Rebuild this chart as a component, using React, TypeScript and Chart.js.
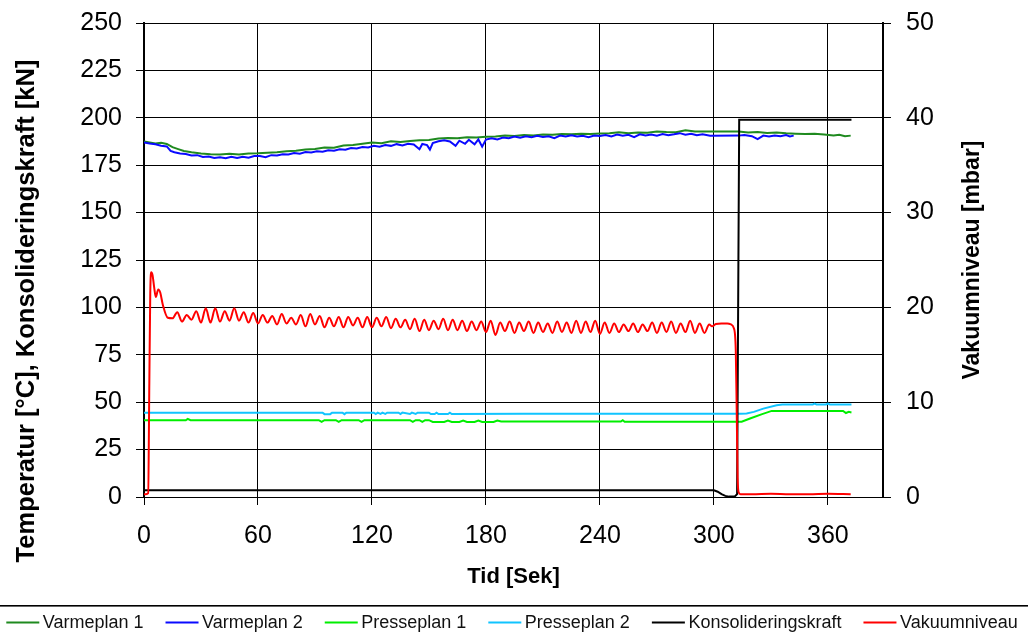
import { useEffect, useRef } from "react";
import { Chart, registerables } from "chart.js";

Chart.register(...registerables);

const FONT = "'Liberation Sans', Arial, sans-serif";

const X_TICKS = [0, 60, 120, 180, 240, 300, 360];
const X_MAX = 389;
const LEFT_TICKS = [0, 25, 50, 75, 100, 125, 150, 175, 200, 225, 250];
const RIGHT_TICKS = [0, 10, 20, 30, 40, 50];

const X_TITLE = "Tid [Sek]";
const LEFT_TITLE = "Temperatur [°C], Konsolideringskraft [kN]";
const RIGHT_TITLE = "Vakuumniveau [mbar]";

const SERIES_LABELS = ["Varmeplan 1", "Varmeplan 2", "Presseplan 1", "Presseplan 2", "Konsolideringskraft", "Vakuumniveau"];
const SERIES_COLORS = ["#1f8a1f", "#0a0aff", "#00ee00", "#10c4ff", "#000000", "#ff0000"];

// Varmeplan 1 (°C)
const VARME1_T = [0, 3, 6, 9, 12, 15, 18, 21, 25, 30, 35, 40, 45, 50, 55, 60, 65, 70, 75, 80, 85, 90, 95, 100, 105, 110, 115, 120, 125, 130, 135, 140, 145, 150, 155, 160, 165, 170, 175, 180, 185, 190, 195, 200, 205, 210, 215, 220, 225, 230, 235, 240, 245, 250, 255, 260, 265, 270, 275, 280, 285, 290, 298, 313, 318, 323, 328, 333, 338, 343, 348, 353, 358, 363, 366, 369, 372];
const VARME1_V = [187.5, 187, 186.5, 186.8, 186.2, 184.5, 183.5, 182.5, 181.8, 181.2, 180.8, 180.7, 181, 180.6, 181.2, 181.3, 181.6, 181.8, 182.4, 182.6, 183.3, 183.6, 184.3, 184.2, 185.4, 185.6, 186.3, 187, 186.6, 187.6, 187.3, 187.8, 188.2, 188.3, 189.1, 189.3, 189.2, 189.8, 189.6, 190, 190.2, 190.6, 190.4, 190.9, 190.7, 191.2, 191, 191.4, 191.3, 191.6, 191.5, 191.7, 191.9, 192.4, 191.9, 192.3, 192.1, 192.8, 192.5, 192.4, 193.4, 192.8, 192.8, 192.8, 192.3, 192.5, 192, 192.3, 191.8, 191.6, 191.4, 191.6, 191.2, 190.7, 191.1, 190.3, 190.6];

// Varmeplan 2 (°C)
const VARME2_T = [0, 3, 6, 9, 12, 14, 16, 19, 22, 25, 28, 31, 34, 37, 40, 43, 46, 49, 52, 55, 58, 61, 64, 67, 70, 73, 76, 79, 82, 85, 88, 91, 94, 97, 100, 103, 106, 109, 112, 115, 118, 121, 124, 127, 130, 133, 136, 139, 142, 145, 146.5, 149, 150.5, 152, 155, 158, 161, 164, 166, 169, 171, 174, 176, 178, 180, 183, 186, 189, 192, 195, 198, 201, 204, 207, 210, 213, 216, 219, 222, 225, 228, 231, 234, 237, 240, 243, 246, 249, 252, 255, 258, 261, 264, 267, 270, 273, 276, 279, 282, 285, 288, 291, 294, 298, 313, 316, 320, 323, 326, 329, 332, 335, 338, 340, 342];
const VARME2_V = [187, 186.4, 186, 185.3, 184.9, 182.5, 181.8, 181.2, 180.9, 180.1, 180.3, 179.3, 179.6, 178.8, 179.2, 178.7, 179.4, 178.8, 179.5, 178.9, 179.8, 179.8, 179.2, 180.3, 180.1, 180.8, 180.6, 181.4, 181.1, 181.9, 181.7, 182.3, 182.1, 182.9, 182.6, 183.4, 183.2, 184.1, 183.8, 184.6, 184.3, 185.2, 184.8, 185.6, 185.2, 186.1, 185.4, 186.3, 185.9, 183.4, 186.2, 185.6, 183.2, 186.7, 187.6, 188.2, 187.5, 185.2, 187.9, 186.3, 188.4, 186, 188.6, 184.8, 188.5, 189.2, 188.6, 189.6, 189.2, 190.1, 189.5, 190.3, 189.7, 190.5, 189.9, 190.3, 189.3, 190.6, 190.1, 190.8, 190.2, 190.5, 189.8, 190.6, 190.4, 190.9, 190.2, 191.2, 190.5, 191, 189.8, 191.3, 190.7, 191.2, 190.5, 191.4, 190.8, 191.3, 191.9, 191.1, 191.6, 190.8, 191.3, 190.5, 190.6, 190.9, 190.3, 188.8, 190.6, 190.1, 190.7, 190.3, 190.9, 190.2, 190.6];

// Presseplan 1 (°C)
const PRESSE1_T = [0, 22, 23, 24.5, 92, 93.5, 95, 101, 102.5, 104, 113, 114.5, 116, 140, 141.5, 143, 145, 146.5, 148, 150, 152, 158, 160, 162, 166, 168, 170, 174, 176, 178, 184, 186, 188, 251, 252, 253, 314.6, 319, 325, 330.4, 368, 369.5, 371, 372.4];
const PRESSE1_V = [40.5, 40.5, 41.2, 40.5, 40.5, 39.6, 40.5, 40.5, 39.6, 40.5, 40.5, 39.6, 40.5, 40.5, 39.6, 40.5, 40.5, 39.6, 40.5, 40.5, 39.6, 39.6, 40.3, 39.6, 39.6, 40.3, 39.6, 39.6, 40.3, 39.6, 39.6, 40.3, 39.8, 39.8, 40.5, 39.7, 39.7, 41.4, 43.6, 45.4, 45.4, 44.3, 44.9, 44.6];

// Presseplan 2 (°C)
const PRESSE2_T = [0, 94, 95, 98, 99, 104.5, 105.5, 106.5, 121, 122, 123, 124.5, 125.5, 127, 128, 134, 135, 136, 140, 141, 143, 144, 150, 151, 153, 154, 155, 160, 161, 162, 200, 314, 317.2, 321, 326, 333, 336, 352, 353, 354, 359, 360, 361, 372.4];
const PRESSE2_V = [44.5, 44.5, 43.7, 43.7, 44.5, 44.5, 43.7, 44.5, 44.5, 43.8, 44.5, 43.8, 44.5, 43.8, 44.5, 44.5, 43.8, 44.5, 43.8, 44.5, 43.8, 44.5, 44.5, 43.8, 43.8, 44.5, 43.8, 43.8, 44.5, 43.8, 43.9, 43.9, 44.1, 44.9, 46.6, 48.4, 48.8, 48.8, 49.3, 48.8, 48.8, 49.3, 48.8, 48.8];

// Konsolideringskraft (kN)
const KRAFT_T = [0, 300, 302, 304, 306, 308, 311, 312.2, 313.3, 372.4];
const KRAFT_V = [3.5, 3.5, 2.8, 1.5, 0.6, 0.2, 0.3, 1.5, 199, 199];

// Vakuumniveau (mbar)
const VAC_T = [0, 1, 2.2, 2.8, 3.3, 3.8, 4.5, 5.3, 6.2, 7.5, 8.5, 10, 12.5, 15,
  17.5, 20, 22.5, 25, 27.5, 30, 32.5, 35, 37.5, 40, 42.5, 45, 47.5, 50, 52.5, 55, 57.5, 60,
  62.5, 65, 67.5, 70, 72.5, 75, 77.5, 80, 82.5, 85, 87.5, 90, 92.5, 95, 97.5, 100,
  102.5, 105, 107.5, 110, 112.5, 115, 117.5, 120, 122.5, 125, 127.5, 130, 132.5, 135, 137.5, 140,
  142.5, 145, 147.5, 150, 152.5, 155, 157.5, 160, 162.5, 165, 167.5, 170, 172.5, 175, 177.5, 180,
  182.5, 185, 187.5, 190, 192.5, 195, 197.5, 200, 202.5, 205, 207.5, 210, 212.5, 215, 217.5, 220,
  222.5, 225, 227.5, 230, 232.5, 235, 237.5, 240, 242.5, 245, 247.5, 250, 252.5, 255, 257.5, 260,
  262.5, 265, 267.5, 270, 272.5, 275, 277.5, 280, 282.5, 285, 287.5, 290, 292.5, 295, 297.5,
  299, 301, 304, 307, 309, 310.5, 311.5, 312, 312.5, 313, 314, 320, 330, 340, 350, 360, 372];
const VAC_V = [0.3, 0.3, 0.4, 12, 21.5, 23.7, 23.4, 22.2, 21.1, 21.9, 21.6, 20.2, 18.9, 18.85,
  19.5, 18.5, 19.2, 18.7, 19.6, 18.4, 19.9, 18.4, 19.9, 18.5, 19.6, 18.6, 19.9, 18.6, 19.5, 18.4, 19.4, 18.3,
  19.2, 18.4, 19.1, 18.2, 19.3, 18.3, 18.9, 18.2, 19.2, 18.0, 19.3, 18.2, 19.1, 17.9, 18.9, 18.0,
  19.0, 17.9, 19.0, 18.1, 18.9, 17.9, 19.0, 17.9, 18.9, 18.0, 19.0, 17.8, 18.8, 17.9, 18.7, 17.7,
  18.8, 17.5, 18.7, 17.6, 18.6, 17.7, 18.8, 17.6, 18.7, 17.6, 18.6, 17.5, 18.5, 17.6, 18.5, 17.4,
  18.6, 17.1, 18.4, 17.5, 18.5, 17.3, 18.4, 17.5, 18.5, 17.3, 18.4, 17.4, 18.3, 17.3, 18.5, 17.4,
  18.4, 17.3, 18.6, 17.3, 18.5, 17.4, 18.6, 17.2, 18.4, 17.3, 18.3, 17.4, 18.2, 17.5, 18.3, 17.4,
  18.2, 17.5, 18.4, 17.3, 18.4, 17.4, 18.5, 17.3, 18.3, 17.4, 18.6, 17.3, 18.3, 17.3, 18.2,
  18.0, 18.25, 18.3, 18.3, 18.2, 17.8, 15.5, 9, 2, 0.5, 0.3, 0.3, 0.35, 0.3, 0.3, 0.35, 0.3];

const pts = (t: number[], v: number[]) => t.map((x, i) => ({ x, y: v[i] }));

const axisTitles = {
  id: "axisTitles",
  afterDraw(chart: any) {
    const { ctx, chartArea } = chart;
    ctx.save();
    ctx.fillStyle = "#000";
    ctx.textAlign = "center";
    ctx.textBaseline = "middle";
    ctx.font = `bold 22px ${FONT}`;
    ctx.fillText(X_TITLE, (chartArea.left + chartArea.right) / 2, 577);
    ctx.save();
    ctx.font = `bold 25.5px ${FONT}`;
    ctx.translate(27, 311);
    ctx.rotate(-Math.PI / 2);
    ctx.fillText(LEFT_TITLE, 0, 0);
    ctx.restore();
    ctx.save();
    ctx.font = `bold 23px ${FONT}`;
    ctx.translate(973, (chartArea.top + chartArea.bottom) / 2);
    ctx.rotate(-Math.PI / 2);
    ctx.fillText(RIGHT_TITLE, 0, 0);
    ctx.restore();
    ctx.restore();
  },
};

const bottomLegend = {
  id: "bottomLegend",
  afterDraw(chart: any) {
    const { ctx, width } = chart;
    const lineLen = 33;
    const textGap = 3.5;
    const itemGap = 22;
    const y = 623.5;
    ctx.save();
    ctx.fillStyle = "#000";
    ctx.fillRect(0, 605, width, 1.6);
    ctx.font = `18px ${FONT}`;
    ctx.textBaseline = "middle";
    ctx.textAlign = "left";
    const ds = chart.data.datasets;
    const widths = ds.map((d: any) => ctx.measureText(d.label).width);
    const total = widths.reduce((a: number, w: number) => a + w + lineLen + textGap, 0) + itemGap * (ds.length - 1);
    let x = 512 - total / 2;
    ds.forEach((d: any, i: number) => {
      ctx.strokeStyle = d.borderColor;
      ctx.lineWidth = 2;
      ctx.beginPath();
      ctx.moveTo(x, y - 1);
      ctx.lineTo(x + lineLen, y - 1);
      ctx.stroke();
      ctx.fillStyle = "#111";
      ctx.fillText(d.label, x + lineLen + textGap, y);
      x += lineLen + textGap + widths[i] + itemGap;
    });
    ctx.restore();
  },
};

export default function App() {
  const ref = useRef<HTMLCanvasElement>(null);
  useEffect(() => {
    if (!ref.current) return;
    const seriesT = [VARME1_T, VARME2_T, PRESSE1_T, PRESSE2_T, KRAFT_T, VAC_T];
    const seriesV = [VARME1_V, VARME2_V, PRESSE1_V, PRESSE2_V, KRAFT_V, VAC_V];
    const orders = [5, 4, 3, 2, 1, 0];
    const datasets = SERIES_LABELS.map((label, i) => ({
      label,
      data: pts(seriesT[i], seriesV[i]),
      borderColor: SERIES_COLORS[i],
      backgroundColor: SERIES_COLORS[i],
      borderWidth: 2,
      pointRadius: 0,
      tension: 0,
      cubicInterpolationMode: i === 5 ? ("monotone" as const) : ("default" as const),
      yAxisID: i === 5 ? "y2" : "y",
      order: orders[i],
    }));
    const tickFont = { family: FONT, size: 25 };
    const chart = new Chart(ref.current, {
      type: "line",
      data: { datasets },
      plugins: [axisTitles, bottomLegend],
      options: {
        animation: false,
        responsive: true,
        maintainAspectRatio: false,
        events: [],
        layout: { padding: { top: 23, bottom: 31, left: 0, right: 0 } },
        plugins: { legend: { display: false }, tooltip: { enabled: false } },
        scales: {
          x: {
            type: "linear",
            min: 0,
            max: X_MAX,
            afterBuildTicks: (s: any) => { s.ticks = X_TICKS.map((v) => ({ value: v })); },
            afterFit: (s: any) => { s.height = 109; s.paddingLeft = 0; s.paddingRight = 0; },
            ticks: { font: tickFont, color: "#000", padding: 16, maxRotation: 0, autoSkip: false },
            grid: { color: "#000", lineWidth: 1, tickLength: 8, drawTicks: true },
            border: { color: "#000", width: 1 },
          },
          y: {
            type: "linear",
            position: "left",
            min: 0,
            max: 250,
            afterBuildTicks: (s: any) => { s.ticks = LEFT_TICKS.map((v) => ({ value: v })); },
            afterFit: (s: any) => { s.width = 144; s.paddingTop = 0; s.paddingBottom = 0; },
            ticks: { font: tickFont, color: "#000", padding: 14, autoSkip: false },
            grid: { color: "#000", lineWidth: 1, tickLength: 8, drawTicks: true },
            border: { color: "#000", width: 2 },
          },
          y2: {
            type: "linear",
            position: "right",
            min: 0,
            max: 50,
            afterBuildTicks: (s: any) => { s.ticks = RIGHT_TICKS.map((v) => ({ value: v })); },
            afterFit: (s: any) => { s.width = 145; s.paddingTop = 0; s.paddingBottom = 0; },
            ticks: { font: tickFont, color: "#000", padding: 15, autoSkip: false },
            grid: { color: "#000", lineWidth: 1, tickLength: 8, drawTicks: true, drawOnChartArea: false },
            border: { color: "#000", width: 2 },
          },
        },
      },
    });
    return () => chart.destroy();
  }, []);
  return (
    <div style={{ position: "fixed", left: 0, top: 0, width: 1028, height: 637, background: "#fff" }}>
      <canvas ref={ref} />
    </div>
  );
}
